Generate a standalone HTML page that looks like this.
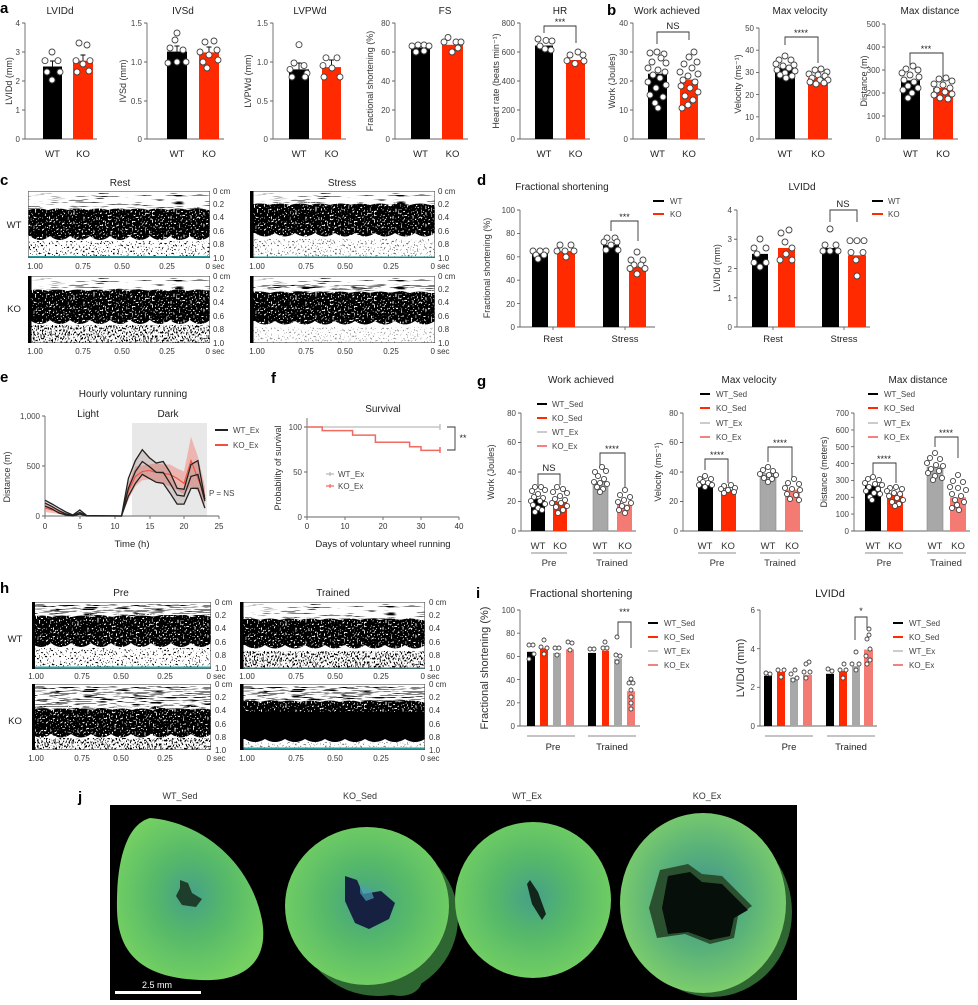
<!DOCTYPE html>
<html><head><meta charset="utf-8"><style>
body{margin:0;background:#fff}
svg text{font-family:"Liberation Sans",Arial,sans-serif;fill:#333}
.tr{font-size:8px;text-anchor:end;fill:#444}
.tm{font-size:8px;text-anchor:middle;fill:#444}
.tl{font-size:8px;fill:#444}
.ti{font-size:10px;text-anchor:middle;fill:#222}
.ti2{font-size:11px;text-anchor:middle;fill:#222}
.xl{font-size:9.5px;text-anchor:middle;fill:#222}
.yl{font-size:9px;text-anchor:middle;fill:#333}
.yl2{font-size:11px;text-anchor:middle;fill:#333}
.lg{font-size:8px;fill:#444}
.L{font-size:15px;font-weight:bold;fill:#000}
.ax{stroke:#666;stroke-width:0.9;fill:none}
.br{stroke:#333;stroke-width:0.9;fill:none}
.eb{stroke:#000;stroke-width:0.9;fill:none}
.d circle{fill:#fff;stroke:#444;stroke-width:0.9}
.s{font-size:9px;text-anchor:middle;fill:#222}
.hl{font-size:9px;text-anchor:middle;fill:#333}
</style></head><body>
<svg width="978" height="1000" viewBox="0 0 978 1000" xmlns="http://www.w3.org/2000/svg">
<defs>
<filter id="fs" x="0" y="0" width="1" height="1" color-interpolation-filters="sRGB"><feTurbulence type="fractalNoise" baseFrequency="0.05 0.9" numOctaves="2" seed="3"/><feColorMatrix type="matrix" values="0 0 0 0 0  0 0 0 0 0  0 0 0 0 0  -10 0 0 0 3.8"/></filter>
<filter id="fs2" x="0" y="0" width="1" height="1" color-interpolation-filters="sRGB"><feTurbulence type="fractalNoise" baseFrequency="0.06 0.9" numOctaves="2" seed="5"/><feColorMatrix type="matrix" values="0 0 0 0 0  0 0 0 0 0  0 0 0 0 0  -10 0 0 0 4.6"/></filter>
<filter id="ws" x="0" y="0" width="1" height="1" color-interpolation-filters="sRGB"><feTurbulence type="fractalNoise" baseFrequency="0.7 0.5" numOctaves="1" seed="4"/><feColorMatrix type="matrix" values="0 0 0 0 1  0 0 0 0 1  0 0 0 0 1  -10 0 0 0 4.1"/></filter>
<filter id="ks" x="0" y="0" width="1" height="1" color-interpolation-filters="sRGB"><feTurbulence type="fractalNoise" baseFrequency="0.7 0.5" numOctaves="1" seed="7"/><feColorMatrix type="matrix" values="0 0 0 0 0  0 0 0 0 0  0 0 0 0 0  -10 0 0 0 4.1"/></filter>
<filter id="ks2" x="0" y="0" width="1" height="1" color-interpolation-filters="sRGB"><feTurbulence type="fractalNoise" baseFrequency="0.7 0.5" numOctaves="1" seed="9"/><feColorMatrix type="matrix" values="0 0 0 0 0  0 0 0 0 0  0 0 0 0 0  -10 0 0 0 4.8"/></filter>
<radialGradient id="hg" cx="50%" cy="48%" r="55%"><stop offset="0" stop-color="#45a088"/><stop offset="0.45" stop-color="#55b86a"/><stop offset="1" stop-color="#74d062"/></radialGradient>
<radialGradient id="hg2" cx="50%" cy="48%" r="55%"><stop offset="0" stop-color="#3f9090"/><stop offset="0.5" stop-color="#58b07a"/><stop offset="1" stop-color="#80d06a"/></radialGradient>
</defs>

<!-- ============ PANEL a ============ -->
<text class="L" x="0" y="13">a</text>
<text class="ti" x="60" y="14">LVIDd</text>
<text class="yl" transform="translate(12,81) rotate(-90)">LVIDd (mm)</text>
<path class="ax" d="M25 23V139H97M22 23h3M22 52h3M22 81h3M22 110h3M22 139h3"/>
<text class="tr" x="20" y="26">4</text><text class="tr" x="20" y="55">3</text><text class="tr" x="20" y="84">2</text><text class="tr" x="20" y="113">1</text><text class="tr" x="20" y="142">0</text>
<rect x="43" y="66.5" width="19" height="72.5" fill="#000"/>
<rect x="73" y="60.7" width="20" height="78.3" fill="#ff2a00"/>
<path class="eb" d="M52.5 66.5V61M50 61h5M83 60.7V55M80.5 55h5"/>
<g class="d"><circle cx="52" cy="52" r="3"/><circle cx="45" cy="60.7" r="3"/><circle cx="58" cy="60.7" r="3"/><circle cx="47" cy="72" r="3"/><circle cx="60" cy="72" r="3"/><circle cx="52" cy="80" r="3"/>
<circle cx="79" cy="43" r="3"/><circle cx="87" cy="45" r="3"/><circle cx="76" cy="60.7" r="3"/><circle cx="90" cy="60.7" r="3"/><circle cx="77" cy="72" r="3"/><circle cx="89" cy="71" r="3"/><circle cx="83" cy="64" r="3"/></g>
<text class="xl" x="52.5" y="157">WT</text><text class="xl" x="83" y="157">KO</text>

<text class="ti" x="183" y="14">IVSd</text>
<text class="yl" transform="translate(126,81) rotate(-90)">IVSd (mm)</text>
<path class="ax" d="M147 23V139H224M144 23h3M144 62h3M144 101h3M144 139h3"/>
<text class="tr" x="142" y="26">1.5</text><text class="tr" x="142" y="65">1.0</text><text class="tr" x="142" y="104">0.5</text><text class="tr" x="142" y="142">0</text>
<rect x="167" y="51.6" width="20" height="87.4" fill="#000"/>
<rect x="199" y="52.4" width="20" height="86.6" fill="#ff2a00"/>
<path class="eb" d="M177 51.6V46M174.5 46h5M209 52.4V47M206.5 47h5"/>
<g class="d"><circle cx="177" cy="33" r="3"/><circle cx="175" cy="40" r="3"/><circle cx="170" cy="48" r="3"/><circle cx="183" cy="50" r="3"/><circle cx="168" cy="63" r="3"/><circle cx="186" cy="62" r="3"/><circle cx="177" cy="62" r="3"/>
<circle cx="205" cy="42" r="3"/><circle cx="214" cy="41" r="3"/><circle cx="200" cy="52" r="3"/><circle cx="217" cy="50" r="3"/><circle cx="209" cy="55" r="3"/><circle cx="203" cy="62" r="3"/><circle cx="207" cy="68" r="3"/><circle cx="218" cy="60" r="3"/></g>
<text class="xl" x="177" y="157">WT</text><text class="xl" x="209" y="157">KO</text>

<text class="ti" x="310" y="14">LVPWd</text>
<text class="yl" transform="translate(251,81) rotate(-90)">LVPWd (mm)</text>
<path class="ax" d="M273 23V139H346M270 23h3M270 62h3M270 101h3M270 139h3"/>
<text class="tr" x="268" y="26">1.5</text><text class="tr" x="268" y="65">1.0</text><text class="tr" x="268" y="104">0.5</text><text class="tr" x="268" y="142">0</text>
<rect x="289" y="69.4" width="20" height="69.6" fill="#000"/>
<rect x="322" y="67.1" width="19" height="71.9" fill="#ff2a00"/>
<path class="eb" d="M299 69.4V63M296.5 63h5M331.5 67.1V60M329 60h5"/>
<g class="d"><circle cx="299" cy="44.7" r="3"/><circle cx="294" cy="63" r="3"/><circle cx="304" cy="65.6" r="3"/><circle cx="290" cy="69.4" r="3"/><circle cx="307" cy="73.3" r="3"/><circle cx="292" cy="77" r="3"/><circle cx="305" cy="77" r="3"/>
<circle cx="326" cy="57.8" r="3"/><circle cx="337" cy="57.8" r="3"/><circle cx="323" cy="65.6" r="3"/><circle cx="332" cy="68" r="3"/><circle cx="324" cy="77" r="3"/><circle cx="340" cy="77" r="3"/></g>
<text class="xl" x="299" y="157">WT</text><text class="xl" x="331.5" y="157">KO</text>

<text class="ti" x="445" y="14">FS</text>
<text class="yl" transform="translate(373,81) rotate(-90)">Fractional shortening (%)</text>
<path class="ax" d="M395 23V139H468M392 23h3M392 52h3M392 81h3M392 110h3M392 139h3"/>
<text class="tr" x="390" y="26">80</text><text class="tr" x="390" y="55">60</text><text class="tr" x="390" y="84">40</text><text class="tr" x="390" y="113">20</text><text class="tr" x="390" y="142">0</text>
<rect x="411" y="47.6" width="19" height="91.4" fill="#000"/>
<rect x="442" y="44.8" width="21" height="94.2" fill="#ff2a00"/>
<g class="d"><circle cx="412" cy="46" r="3"/><circle cx="418" cy="45" r="3"/><circle cx="424" cy="45" r="3"/><circle cx="429" cy="46" r="3"/><circle cx="416" cy="52" r="3"/><circle cx="424" cy="51" r="3"/>
<circle cx="448" cy="37.5" r="3"/><circle cx="444" cy="42" r="3"/><circle cx="456" cy="42" r="3"/><circle cx="461" cy="42" r="3"/><circle cx="452" cy="52" r="3"/><circle cx="458" cy="48" r="3"/></g>
<text class="xl" x="420.5" y="157">WT</text><text class="xl" x="452.5" y="157">KO</text>

<text class="ti" x="560" y="14">HR</text>
<text class="yl" transform="translate(499,81) rotate(-90)">Heart rate (beats min⁻¹)</text>
<path class="ax" d="M520 23V139H590M517 23h3M517 52h3M517 81h3M517 110h3M517 139h3"/>
<text class="tr" x="515" y="26">800</text><text class="tr" x="515" y="55">600</text><text class="tr" x="515" y="84">400</text><text class="tr" x="515" y="113">200</text><text class="tr" x="515" y="142">0</text>
<rect x="535" y="45.5" width="18" height="93.5" fill="#000"/>
<rect x="566" y="60" width="19" height="79" fill="#ff2a00"/>
<path class="br" d="M544 33V26H576V43"/><text class="s" x="560" y="25">***</text>
<g class="d"><circle cx="538" cy="39" r="3"/><circle cx="546" cy="40.4" r="3"/><circle cx="552" cy="41" r="3"/><circle cx="540" cy="46" r="3"/><circle cx="545" cy="49" r="3"/><circle cx="551" cy="50" r="3"/>
<circle cx="578" cy="52" r="3"/><circle cx="570" cy="55" r="3"/><circle cx="583" cy="55" r="3"/><circle cx="567" cy="60.7" r="3"/><circle cx="584" cy="61" r="3"/><circle cx="575" cy="63.6" r="3"/></g>
<text class="xl" x="544" y="157">WT</text><text class="xl" x="575.5" y="157">KO</text>

<!-- ============ PANEL b ============ -->
<text class="L" x="607" y="15">b</text>
<text class="ti" x="667" y="14">Work achieved</text>
<text class="yl" transform="translate(615,81) rotate(-90)">Work (Joules)</text>
<path class="ax" d="M633 23V139H705M630 23h3M630 52h3M630 81h3M630 110h3M630 139h3"/>
<text class="tr" x="628" y="26">40</text><text class="tr" x="628" y="55">30</text><text class="tr" x="628" y="84">20</text><text class="tr" x="628" y="113">10</text><text class="tr" x="628" y="142">0</text>
<rect x="648" y="73.7" width="19" height="65.3" fill="#000"/>
<rect x="680" y="79.6" width="18" height="59.4" fill="#ff2a00"/>
<path class="br" d="M657 44V32H689V40"/><text class="xl" x="673" y="29">NS</text>
<g class="d"><circle cx="650" cy="53" r="3"/><circle cx="657" cy="52" r="3"/><circle cx="664" cy="54" r="3"/><circle cx="661" cy="58" r="3"/><circle cx="652" cy="62" r="3"/><circle cx="666" cy="63" r="3"/><circle cx="648" cy="68" r="3"/><circle cx="658" cy="70" r="3"/><circle cx="665" cy="72" r="3"/><circle cx="653" cy="75" r="3"/><circle cx="660" cy="78" r="3"/><circle cx="648" cy="82" r="3"/><circle cx="666" cy="85" r="3"/><circle cx="656" cy="88" r="3"/><circle cx="650" cy="95" r="3"/><circle cx="663" cy="97" r="3"/><circle cx="655" cy="103" r="3"/><circle cx="658" cy="108" r="3"/>
<circle cx="694" cy="52" r="3"/><circle cx="689" cy="57" r="3"/><circle cx="697" cy="62" r="3"/><circle cx="684" cy="64" r="3"/><circle cx="692" cy="68" r="3"/><circle cx="680" cy="72" r="3"/><circle cx="698" cy="74" r="3"/><circle cx="688" cy="76" r="3"/><circle cx="683" cy="80" r="3"/><circle cx="695" cy="82" r="3"/><circle cx="681" cy="86" r="3"/><circle cx="690" cy="88" r="3"/><circle cx="698" cy="92" r="3"/><circle cx="685" cy="96" r="3"/><circle cx="693" cy="100" r="3"/><circle cx="688" cy="105" r="3"/><circle cx="682" cy="108" r="3"/></g>
<text class="xl" x="657.5" y="157">WT</text><text class="xl" x="689" y="157">KO</text>

<text class="ti" x="800" y="14">Max velocity</text>
<text class="yl" transform="translate(741,84) rotate(-90)">Velocity (ms⁻¹)</text>
<path class="ax" d="M759 28V139H832M756 28h3M756 50.2h3M756 72.4h3M756 94.6h3M756 116.8h3M756 139h3"/>
<text class="tr" x="754" y="31">50</text><text class="tr" x="754" y="53">40</text><text class="tr" x="754" y="75">30</text><text class="tr" x="754" y="98">20</text><text class="tr" x="754" y="120">10</text><text class="tr" x="754" y="142">0</text>
<rect x="775" y="68" width="20" height="71" fill="#000"/>
<rect x="808" y="78" width="20" height="61" fill="#ff2a00"/>
<path class="br" d="M785 45V37H818V63"/><text class="s" x="801" y="36">****</text>
<g class="d"><circle cx="785" cy="56" r="3"/><circle cx="779" cy="60" r="3"/><circle cx="791" cy="60" r="3"/><circle cx="776" cy="64" r="3"/><circle cx="794" cy="65" r="3"/><circle cx="783" cy="66" r="3"/><circle cx="789" cy="68" r="3"/><circle cx="777" cy="70" r="3"/><circle cx="795" cy="71" r="3"/><circle cx="785" cy="73" r="3"/><circle cx="780" cy="75" r="3"/><circle cx="792" cy="76" r="3"/><circle cx="786" cy="78" r="3"/>
<circle cx="815" cy="70" r="3"/><circle cx="821" cy="69" r="3"/><circle cx="827" cy="72" r="3"/><circle cx="809" cy="74" r="3"/><circle cx="818" cy="75" r="3"/><circle cx="825" cy="76" r="3"/><circle cx="812" cy="78" r="3"/><circle cx="820" cy="80" r="3"/><circle cx="828" cy="80" r="3"/><circle cx="810" cy="82" r="3"/><circle cx="816" cy="84" r="3"/><circle cx="824" cy="83" r="3"/></g>
<text class="xl" x="785" y="157">WT</text><text class="xl" x="818" y="157">KO</text>

<text class="ti" x="930" y="14">Max distance</text>
<text class="yl" transform="translate(867,81) rotate(-90)">Distance (m)</text>
<path class="ax" d="M885 24V139H958M882 24h3M882 47h3M882 70h3M882 93h3M882 116h3M882 139h3"/>
<text class="tr" x="880" y="27">500</text><text class="tr" x="880" y="50">400</text><text class="tr" x="880" y="73">300</text><text class="tr" x="880" y="96">200</text><text class="tr" x="880" y="119">100</text><text class="tr" x="880" y="142">0</text>
<rect x="901" y="80.4" width="19" height="58.6" fill="#000"/>
<rect x="933" y="88" width="20" height="51" fill="#ff2a00"/>
<path class="br" d="M910 65V53H943V87"/><text class="s" x="926" y="52">***</text>
<g class="d"><circle cx="913" cy="66" r="3"/><circle cx="906" cy="69" r="3"/><circle cx="918" cy="70" r="3"/><circle cx="902" cy="73" r="3"/><circle cx="910" cy="75" r="3"/><circle cx="919" cy="77" r="3"/><circle cx="904" cy="80" r="3"/><circle cx="914" cy="82" r="3"/><circle cx="908" cy="86" r="3"/><circle cx="918" cy="88" r="3"/><circle cx="903" cy="90" r="3"/><circle cx="912" cy="93" r="3"/><circle cx="908" cy="98" r="3"/>
<circle cx="939" cy="79" r="3"/><circle cx="946" cy="78" r="3"/><circle cx="952" cy="81" r="3"/><circle cx="934" cy="84" r="3"/><circle cx="943" cy="85" r="3"/><circle cx="950" cy="88" r="3"/><circle cx="937" cy="90" r="3"/><circle cx="945" cy="92" r="3"/><circle cx="934" cy="95" r="3"/><circle cx="952" cy="94" r="3"/><circle cx="940" cy="98" r="3"/><circle cx="948" cy="99" r="3"/></g>
<text class="xl" x="910.5" y="157">WT</text><text class="xl" x="943" y="157">KO</text>

<!-- ============ PANEL c ============ -->
<text class="L" x="0" y="185">c</text>
<text class="ti" x="120" y="186">Rest</text>
<text class="ti" x="342" y="186">Stress</text>
<text class="xl" x="14" y="228">WT</text>
<text class="xl" x="14" y="312">KO</text>

<svg x="28" y="191" width="182" height="67" overflow="hidden">
<rect width="182" height="67" fill="#fff"/>
<rect y="2" width="182" height="17" filter="url(#fs)"/>
<path d="M0 19q10 -3 20 0q10 -3 20 0q10 -3 20 0q10 -3 20 0q10 -3 20 0q10 -3 20 0q10 -3 20 0q10 -3 20 0q10 -3 20 0H182V45q-10 8 -20 0q-10 8 -20 0q-10 8 -20 0q-10 8 -20 0q-10 8 -20 0q-10 8 -20 0q-10 8 -20 0q-10 8 -20 0q-10 8 -20 0H0Z" fill="#000"/>
<rect y="16" width="182" height="36" filter="url(#ws)"/>
<rect y="50" width="182" height="17" filter="url(#ks)"/>
<rect y="65" width="182" height="2" fill="#2a9a9a"/>
<rect width="182" height="67" fill="none" stroke="#555" stroke-width="1.2"/>
</svg>
<svg x="250" y="191" width="185" height="67" overflow="hidden">
<rect width="185" height="67" fill="#fff"/>
<rect y="2" width="185" height="12" filter="url(#fs)"/>
<path d="M0 14q10 -3 20 0q10 -3 20 0q10 -3 20 0q10 -3 20 0q10 -3 20 0q10 -3 20 0q10 -3 20 0q10 -3 20 0q10 -3 20 0H185V42q-10 7 -20 0q-10 7 -20 0q-10 7 -20 0q-10 7 -20 0q-10 7 -20 0q-10 7 -20 0q-10 7 -20 0q-10 7 -20 0q-10 7 -20 0H0Z" fill="#000"/>
<rect y="11" width="185" height="36" filter="url(#ws)"/>
<rect y="48" width="185" height="19" filter="url(#ks)" opacity="0.6"/>
<rect y="65.5" width="185" height="1.5" fill="#2a9a9a"/>
<rect width="185" height="67" fill="none" stroke="#555" stroke-width="1.2"/>
<rect width="3.5" height="67" fill="#000"/>
</svg>
<svg x="28" y="276" width="182" height="67" overflow="hidden">
<rect width="182" height="67" fill="#fff"/>
<rect y="2" width="182" height="13" filter="url(#fs)"/>
<path d="M0 15q10 -3 20 0q10 -3 20 0q10 -3 20 0q10 -3 20 0q10 -3 20 0q10 -3 20 0q10 -3 20 0q10 -3 20 0q10 -3 20 0H182V44q-10 8 -20 0q-10 8 -20 0q-10 8 -20 0q-10 8 -20 0q-10 8 -20 0q-10 8 -20 0q-10 8 -20 0q-10 8 -20 0q-10 8 -20 0H0Z" fill="#000"/>
<rect y="12" width="182" height="38" filter="url(#ws)"/>
<rect y="49" width="182" height="18" filter="url(#ks2)"/>
<rect width="182" height="67" fill="none" stroke="#555" stroke-width="1.2"/>
<rect width="3.5" height="67" fill="#000"/>
</svg>
<svg x="250" y="276" width="185" height="67" overflow="hidden">
<rect width="185" height="67" fill="#fff"/>
<rect y="2" width="185" height="15" filter="url(#fs)"/>
<rect y="9" width="185" height="4" filter="url(#fs2)"/>
<path d="M0 17q10 -3 20 0q10 -3 20 0q10 -3 20 0q10 -3 20 0q10 -3 20 0q10 -3 20 0q10 -3 20 0q10 -3 20 0q10 -3 20 0H185V45q-10 7 -20 0q-10 7 -20 0q-10 7 -20 0q-10 7 -20 0q-10 7 -20 0q-10 7 -20 0q-10 7 -20 0q-10 7 -20 0q-10 7 -20 0H0Z" fill="#000"/>
<rect y="14" width="185" height="36" filter="url(#ws)"/>
<rect y="51" width="185" height="16" filter="url(#ks)" opacity="0.4"/>
<rect width="185" height="67" fill="none" stroke="#555" stroke-width="1.2"/>
<rect width="3.5" height="67" fill="#000"/>
</svg>
<g class="tl">
<text x="213" y="194">0 cm</text><text x="213" y="207">0.2</text><text x="213" y="220">0.4</text><text x="213" y="234">0.6</text><text x="213" y="247">0.8</text><text x="213" y="261">1.0</text>
<text x="438" y="194">0 cm</text><text x="438" y="207">0.2</text><text x="438" y="220">0.4</text><text x="438" y="234">0.6</text><text x="438" y="247">0.8</text><text x="438" y="261">1.0</text>
<text x="213" y="279">0 cm</text><text x="213" y="292">0.2</text><text x="213" y="305">0.4</text><text x="213" y="319">0.6</text><text x="213" y="332">0.8</text><text x="213" y="346">1.0</text>
<text x="438" y="279">0 cm</text><text x="438" y="292">0.2</text><text x="438" y="305">0.4</text><text x="438" y="319">0.6</text><text x="438" y="332">0.8</text><text x="438" y="346">1.0</text>
</g>
<g class="tm">
<text x="35" y="269">1.00</text><text x="83" y="269">0.75</text><text x="122" y="269">0.50</text><text x="167" y="269">0.25</text><text x="215" y="269">0 sec</text>
<text x="257" y="269">1.00</text><text x="306" y="269">0.75</text><text x="345" y="269">0.50</text><text x="391" y="269">0.25</text><text x="440" y="269">0 sec</text>
<text x="35" y="354">1.00</text><text x="83" y="354">0.75</text><text x="122" y="354">0.50</text><text x="167" y="354">0.25</text><text x="215" y="354">0 sec</text>
<text x="257" y="354">1.00</text><text x="306" y="354">0.75</text><text x="345" y="354">0.50</text><text x="391" y="354">0.25</text><text x="440" y="354">0 sec</text>
</g>

<!-- ============ PANEL d ============ -->
<text class="L" x="477" y="185">d</text>
<text class="ti" x="562" y="190">Fractional shortening</text>
<text class="yl" transform="translate(490,268) rotate(-90)">Fractional shortening (%)</text>
<path class="ax" d="M520 210V327H655M517 210h3M517 233.4h3M517 256.8h3M517 280.2h3M517 303.6h3M517 327h3M553 327v3M625 327v3"/>
<text class="tr" x="515" y="213">100</text><text class="tr" x="515" y="236">80</text><text class="tr" x="515" y="260">60</text><text class="tr" x="515" y="283">40</text><text class="tr" x="515" y="307">20</text><text class="tr" x="515" y="330">0</text>
<rect x="532" y="253.3" width="16" height="73.7" fill="#000"/>
<rect x="557" y="251" width="18" height="76" fill="#ff2a00"/>
<rect x="603" y="245.1" width="16" height="81.9" fill="#000"/>
<rect x="629" y="266.2" width="17" height="60.8" fill="#ff2a00"/>
<path class="br" d="M611 231V221H638V241"/><text class="s" x="624.5" y="220">***</text>
<g class="d"><circle cx="533" cy="251" r="3"/><circle cx="540" cy="251" r="3"/><circle cx="546" cy="251" r="3"/><circle cx="536" cy="255" r="3"/><circle cx="544" cy="255" r="3"/><circle cx="538" cy="259" r="3"/>
<circle cx="560" cy="245" r="3"/><circle cx="571" cy="245" r="3"/><circle cx="557" cy="251" r="3"/><circle cx="565" cy="251" r="3"/><circle cx="574" cy="251" r="3"/><circle cx="566" cy="257" r="3"/>
<circle cx="607" cy="238" r="3"/><circle cx="615" cy="238" r="3"/><circle cx="604" cy="242" r="3"/><circle cx="617" cy="242" r="3"/><circle cx="611" cy="245" r="3"/><circle cx="606" cy="250" r="3"/><circle cx="618" cy="250" r="3"/>
<circle cx="637" cy="252" r="3"/><circle cx="631" cy="260" r="3"/><circle cx="643" cy="260" r="3"/><circle cx="634" cy="265" r="3"/><circle cx="641" cy="265" r="3"/><circle cx="630" cy="268.5" r="3"/><circle cx="645" cy="268.5" r="3"/><circle cx="637" cy="274" r="3"/></g>
<text class="xl" x="553" y="342">Rest</text><text class="xl" x="625" y="342">Stress</text>
<path d="M653 201h11" stroke="#000" stroke-width="2"/><text class="lg" x="670" y="204">WT</text>
<path d="M653 214h11" stroke="#ff2a00" stroke-width="2"/><text class="lg" x="670" y="217">KO</text>

<text class="ti" x="802" y="190">LVIDd</text>
<text class="yl" transform="translate(720,268) rotate(-90)">LVIDd (mm)</text>
<path class="ax" d="M737 210V327H870M734 210h3M734 239.25h3M734 268.5h3M734 297.75h3M734 327h3M773 327v3M844 327v3"/>
<text class="tr" x="732" y="213">4</text><text class="tr" x="732" y="242">3</text><text class="tr" x="732" y="272">2</text><text class="tr" x="732" y="301">1</text><text class="tr" x="732" y="330">0</text>
<rect x="752" y="253.9" width="16" height="73.1" fill="#000"/>
<rect x="778" y="248" width="17" height="79" fill="#ff2a00"/>
<rect x="822" y="248" width="17" height="79" fill="#000"/>
<rect x="848" y="255.3" width="18" height="71.7" fill="#ff2a00"/>
<path class="br" d="M830 222V210H857V222"/><text class="xl" x="843" y="207">NS</text>
<g class="d"><circle cx="760" cy="239" r="3"/><circle cx="754" cy="248" r="3"/><circle cx="766" cy="248" r="3"/><circle cx="757" cy="254" r="3"/><circle cx="754" cy="262.6" r="3"/><circle cx="766" cy="262.6" r="3"/><circle cx="760" cy="267" r="3"/>
<circle cx="789" cy="230" r="3"/><circle cx="781" cy="233" r="3"/><circle cx="785" cy="242" r="3"/><circle cx="792" cy="248" r="3"/><circle cx="780" cy="260" r="3"/><circle cx="792" cy="260" r="3"/><circle cx="786" cy="254" r="3"/>
<circle cx="830" cy="229" r="3"/><circle cx="825" cy="245" r="3"/><circle cx="836" cy="245" r="3"/><circle cx="823" cy="251" r="3"/><circle cx="838" cy="251" r="3"/><circle cx="830" cy="251" r="3"/>
<circle cx="850" cy="240.7" r="3"/><circle cx="857" cy="240.7" r="3"/><circle cx="864" cy="240.7" r="3"/><circle cx="851" cy="252.4" r="3"/><circle cx="863" cy="252.4" r="3"/><circle cx="856" cy="260" r="3"/><circle cx="857" cy="276" r="3"/></g>
<text class="xl" x="773" y="342">Rest</text><text class="xl" x="844" y="342">Stress</text>
<path d="M872 201h11" stroke="#000" stroke-width="2"/><text class="lg" x="888" y="204">WT</text>
<path d="M872 214h11" stroke="#ff2a00" stroke-width="2"/><text class="lg" x="888" y="217">KO</text>

<!-- ============ PANEL e ============ -->
<text class="L" x="0" y="382">e</text>
<text class="ti" x="133" y="397">Hourly voluntary running</text>
<rect x="132" y="423" width="75" height="93" fill="#e8e8e8"/>
<text class="ti" x="88" y="417">Light</text>
<text class="ti" x="168" y="417">Dark</text>
<text class="yl" transform="translate(10,477) rotate(-90)">Distance (m)</text>
<path class="ax" d="M45 416V516H219M42 416h3M42 466h3M42 516h3M45 516v3M80 516v3M115 516v3M150 516v3M184 516v3M219 516v3"/>
<text class="tr" x="40" y="419">1,000</text><text class="tr" x="40" y="469">500</text><text class="tr" x="40" y="519">0</text>
<g class="tm"><text x="45" y="529">0</text><text x="80" y="529">5</text><text x="115" y="529">10</text><text x="150" y="529">15</text><text x="184" y="529">20</text><text x="219" y="529">25</text></g>
<text class="xl" x="132" y="547">Time (h)</text>
<path d="M45 503L52 507L58.9 510L65.9 513L72.8 515L79.8 512L86.7 516L121.5 516L128.4 483L135.4 466.5L142.3 465.5L149.3 464.5L156.2 463.5L163.2 464.5L170.1 464.5L177.1 468.5L184 471.5L191 436.8L197.9 456.6L204.9 486.3L204.9 504.1L197.9 491.3L191 486.3L184 494.2L177.1 490.3L170.1 486.3L163.2 484.3L156.2 481.3L149.3 479.4L142.3 480.4L135.4 486.3L128.4 500L121.5 516L86.7 516L79.8 515L72.8 516L65.9 515L58.9 514L52 513L45 512Z" fill="#f08a80" opacity="0.55"/>
<path d="M45 500.2L52 504L58.9 508L65.9 512L72.8 515L79.8 510L86.7 515.5L121.5 516L128.4 478.4L135.4 460.6L142.3 449.7L149.3 457.6L156.2 463L163.2 461.5L170.1 472.4L177.1 488.3L184 489.3L191 464.5L197.9 460.6L204.9 499.2L204.9 508.1L197.9 488.3L191 488.3L184 504.1L177.1 504.1L170.1 493.2L163.2 483.3L156.2 482.3L149.3 478.4L142.3 474.4L135.4 483.3L128.4 496.2L121.5 516L86.7 516L79.8 514L72.8 516L65.9 515L58.9 513L52 509L45 506.1Z" fill="#8a5a5a" opacity="0.22"/>
<path d="M45 508.1L52 510L58.9 512L65.9 514L72.8 515.5L79.8 514L86.7 516L121.5 516L128.4 491.3L135.4 476.4L142.3 471.5L149.3 470.5L156.2 472.4L163.2 473.4L170.1 474.4L177.1 478.4L184 483.3L191 460.6L197.9 478.4L204.9 496.2" fill="none" stroke="#f0503c" stroke-width="1.1"/>
<g fill="none" stroke="#222" stroke-width="1.3">
<path d="M45 503.1L52 506.6L58.9 510.6L65.9 514L72.8 515.5L79.8 512.5L86.7 515.8L121.5 516L128.4 488.3L135.4 471.5L142.3 461.5L149.3 466.5L156.2 472.4L163.2 472.4L170.1 483.3L177.1 495.2L184 496.2L191 476.4L197.9 474.4L204.9 501.1"/>
<path d="M45 500.2L52 504L58.9 508L65.9 512L72.8 515L79.8 510L86.7 515.5L121.5 516L128.4 478.4L135.4 460.6L142.3 449.7L149.3 457.6L156.2 463L163.2 461.5L170.1 472.4L177.1 488.3L184 489.3L191 464.5L197.9 460.6L204.9 499.2"/>
<path d="M45 506.1L52 509L58.9 513L65.9 515L72.8 516L79.8 514L86.7 516L121.5 516L128.4 496.2L135.4 483.3L142.3 474.4L149.3 478.4L156.2 482.3L163.2 483.3L170.1 493.2L177.1 504.1L184 504.1L191 488.3L197.9 488.3L204.9 508.1"/>
</g>
<path d="M215 430h13" stroke="#222" stroke-width="2"/><text class="lg" x="233" y="433">WT_Ex</text>
<path d="M215 445h13" stroke="#f0503c" stroke-width="2"/><text class="lg" x="233" y="448">KO_Ex</text>
<text class="lg" x="209" y="496">P = NS</text>

<!-- ============ PANEL f ============ -->
<text class="L" x="271" y="383">f</text>
<text class="ti" x="383" y="412">Survival</text>
<text class="yl" transform="translate(281,468) rotate(-90)">Probability of survival</text>
<path class="ax" d="M307 418V517H459M304 427h3M304 472h3M304 517h3M307 517v3M345 517v3M383 517v3M421 517v3M459 517v3"/>
<text class="tr" x="302" y="430">100</text><text class="tr" x="302" y="475">50</text><text class="tr" x="302" y="520">0</text>
<g class="tm"><text x="307" y="529">0</text><text x="345" y="529">10</text><text x="383" y="529">20</text><text x="421" y="529">30</text><text x="459" y="529">40</text></g>
<text class="xl" x="383" y="547">Days of voluntary wheel running</text>
<path d="M307 427H440M440 424v6" stroke="#bbb" stroke-width="1.3" fill="none"/>
<path d="M307 427H322.2V430.6H352.6V435.1H375.4V442.3H409.6V446.8H421V450.4H440M440 447v6" stroke="#f06a60" stroke-width="1.5" fill="none"/>
<path class="br" d="M447 427H455V450H447"/><text class="s" x="463" y="441">**</text>
<path d="M326 474h8M330 472v4" stroke="#aaa" stroke-width="1"/><text class="lg" x="338" y="477">WT_Ex</text>
<path d="M326 486h8M330 484v4" stroke="#f06a60" stroke-width="1.2"/><text class="lg" x="338" y="489">KO_Ex</text>

<!-- ============ PANEL g ============ -->
<text class="L" x="477" y="386">g</text>
<text class="ti" x="581" y="383">Work achieved</text>
<text class="yl" transform="translate(494,472) rotate(-90)">Work (Joules)</text>
<path class="ax" d="M521 413V531H636M518 413h3M518 442.5h3M518 472h3M518 501.5h3M518 531h3"/>
<text class="tr" x="516" y="416">80</text><text class="tr" x="516" y="445">60</text><text class="tr" x="516" y="475">40</text><text class="tr" x="516" y="504">20</text><text class="tr" x="516" y="534">0</text>
<rect x="531" y="498.6" width="14" height="32.4" fill="#000"/>
<rect x="553" y="501.5" width="14" height="29.5" fill="#ff2a00"/>
<rect x="593" y="482.3" width="15" height="48.7" fill="#a8a8a8" stroke="#888" stroke-width="0.6"/>
<rect x="617" y="504.5" width="15" height="26.5" fill="#f47b73"/>
<path class="br" d="M538 485V474H560V485"/><text class="xl" x="549" y="471">NS</text>
<path class="br" d="M600 467V453H625V492"/><text class="s" x="612" y="452">****</text>
<g class="d"><circle cx="535" cy="487" r="2.6"/><circle cx="541" cy="487" r="2.6"/><circle cx="532" cy="491" r="2.6"/><circle cx="545" cy="490" r="2.6"/><circle cx="538" cy="494" r="2.6"/><circle cx="534" cy="497" r="2.6"/><circle cx="543" cy="498" r="2.6"/><circle cx="531" cy="501" r="2.6"/><circle cx="540" cy="501" r="2.6"/><circle cx="545" cy="504" r="2.6"/><circle cx="533" cy="505" r="2.6"/><circle cx="538" cy="508" r="2.6"/><circle cx="542" cy="510" r="2.6"/><circle cx="535" cy="512" r="2.6"/>
<circle cx="557" cy="487" r="2.6"/><circle cx="563" cy="489" r="2.6"/><circle cx="553" cy="492" r="2.6"/><circle cx="567" cy="493" r="2.6"/><circle cx="560" cy="496" r="2.6"/><circle cx="555" cy="499" r="2.6"/><circle cx="565" cy="500" r="2.6"/><circle cx="552" cy="503" r="2.6"/><circle cx="561" cy="503" r="2.6"/><circle cx="567" cy="506" r="2.6"/><circle cx="556" cy="507" r="2.6"/><circle cx="563" cy="510" r="2.6"/><circle cx="558" cy="513" r="2.6"/>
<circle cx="602" cy="467" r="2.6"/><circle cx="595" cy="472" r="2.6"/><circle cx="606" cy="471" r="2.6"/><circle cx="598" cy="476" r="2.6"/><circle cx="604" cy="479" r="2.6"/><circle cx="594" cy="482" r="2.6"/><circle cx="600" cy="483" r="2.6"/><circle cx="607" cy="484" r="2.6"/><circle cx="597" cy="487" r="2.6"/><circle cx="603" cy="489" r="2.6"/><circle cx="600" cy="492" r="2.6"/>
<circle cx="625" cy="490" r="2.6"/><circle cx="620" cy="495" r="2.6"/><circle cx="630" cy="497" r="2.6"/><circle cx="624" cy="500" r="2.6"/><circle cx="618" cy="502" r="2.6"/><circle cx="631" cy="503" r="2.6"/><circle cx="622" cy="506" r="2.6"/><circle cx="627" cy="508" r="2.6"/><circle cx="619" cy="510" r="2.6"/><circle cx="625" cy="513" r="2.6"/></g>
<g class="xl"><text x="538" y="549">WT</text><text x="560" y="549">KO</text><text x="600" y="549">WT</text><text x="625" y="549">KO</text><text x="549" y="566">Pre</text><text x="612" y="566">Trained</text></g>
<path d="M531 553H567M593 553H632" stroke="#888" stroke-width="0.9"/>
<g><path d="M537 404h10" stroke="#000" stroke-width="2"/><path d="M537 418h10" stroke="#ff2a00" stroke-width="2"/><path d="M537 432h10" stroke="#ccc" stroke-width="2"/><path d="M537 446h10" stroke="#f58080" stroke-width="2"/>
<text class="lg" x="552" y="407">WT_Sed</text><text class="lg" x="552" y="421">KO_Sed</text><text class="lg" x="552" y="435">WT_Ex</text><text class="lg" x="552" y="449">KO_Ex</text></g>

<text class="ti" x="749" y="383">Max velocity</text>
<text class="yl" transform="translate(661,472) rotate(-90)">Velocity (ms⁻¹)</text>
<path class="ax" d="M683 413V531H803M680 413h3M680 442.5h3M680 472h3M680 501.5h3M680 531h3"/>
<text class="tr" x="678" y="416">80</text><text class="tr" x="678" y="445">60</text><text class="tr" x="678" y="475">40</text><text class="tr" x="678" y="504">20</text><text class="tr" x="678" y="534">0</text>
<rect x="698" y="483.8" width="15" height="47.2" fill="#000"/>
<rect x="721" y="489.7" width="15" height="41.3" fill="#ff2a00"/>
<rect x="760" y="473.5" width="16" height="57.5" fill="#a8a8a8" stroke="#888" stroke-width="0.6"/>
<rect x="785" y="489.7" width="15" height="41.3" fill="#f47b73"/>
<path class="br" d="M705 470V459H728V483"/><text class="s" x="717" y="458">****</text>
<path class="br" d="M768 462V447H792V477"/><text class="s" x="780" y="446">****</text>
<g class="d"><circle cx="705" cy="476" r="2.6"/><circle cx="700" cy="479" r="2.6"/><circle cx="711" cy="479" r="2.6"/><circle cx="703" cy="482" r="2.6"/><circle cx="708" cy="483" r="2.6"/><circle cx="699" cy="485" r="2.6"/><circle cx="712" cy="485" r="2.6"/><circle cx="705" cy="487" r="2.6"/>
<circle cx="731" cy="485" r="2.6"/><circle cx="724" cy="486" r="2.6"/><circle cx="735" cy="488" r="2.6"/><circle cx="721" cy="489" r="2.6"/><circle cx="728" cy="490" r="2.6"/><circle cx="734" cy="492" r="2.6"/><circle cx="724" cy="493" r="2.6"/>
<circle cx="768" cy="467" r="2.6"/><circle cx="763" cy="470" r="2.6"/><circle cx="773" cy="471" r="2.6"/><circle cx="760" cy="474" r="2.6"/><circle cx="769" cy="475" r="2.6"/><circle cx="776" cy="475" r="2.6"/><circle cx="764" cy="478" r="2.6"/><circle cx="772" cy="479" r="2.6"/><circle cx="768" cy="482" r="2.6"/>
<circle cx="794" cy="479" r="2.6"/><circle cx="788" cy="483" r="2.6"/><circle cx="799" cy="484" r="2.6"/><circle cx="785" cy="488" r="2.6"/><circle cx="792" cy="489" r="2.6"/><circle cx="800" cy="490" r="2.6"/><circle cx="787" cy="494" r="2.6"/><circle cx="796" cy="495" r="2.6"/><circle cx="790" cy="499" r="2.6"/><circle cx="799" cy="500" r="2.6"/></g>
<g class="xl"><text x="705" y="549">WT</text><text x="728" y="549">KO</text><text x="768" y="549">WT</text><text x="792" y="549">KO</text><text x="717" y="566">Pre</text><text x="780" y="566">Trained</text></g>
<path d="M698 553H736M760 553H800" stroke="#888" stroke-width="0.9"/>
<g><path d="M700 394h10" stroke="#000" stroke-width="2"/><path d="M700 408h10" stroke="#ff2a00" stroke-width="2"/><path d="M700 423h10" stroke="#ccc" stroke-width="2"/><path d="M700 437h10" stroke="#f58080" stroke-width="2"/>
<text class="lg" x="716" y="397">WT_Sed</text><text class="lg" x="716" y="411">KO_Sed</text><text class="lg" x="716" y="426">WT_Ex</text><text class="lg" x="716" y="440">KO_Ex</text></g>

<text class="ti" x="918" y="383">Max distance</text>
<text class="yl" transform="translate(827,472) rotate(-90)">Distance (meters)</text>
<path class="ax" d="M854 413V531H970M851 413h3M851 429.9h3M851 446.7h3M851 463.6h3M851 480.4h3M851 497.3h3M851 514.1h3M851 531h3"/>
<text class="tr" x="849" y="416">700</text><text class="tr" x="849" y="433">600</text><text class="tr" x="849" y="450">500</text><text class="tr" x="849" y="467">400</text><text class="tr" x="849" y="483">300</text><text class="tr" x="849" y="500">200</text><text class="tr" x="849" y="517">100</text><text class="tr" x="849" y="534">0</text>
<rect x="865" y="485.5" width="16" height="45.5" fill="#000"/>
<rect x="887" y="494.7" width="16" height="36.3" fill="#ff2a00"/>
<rect x="927" y="466.9" width="16" height="64.1" fill="#a8a8a8" stroke="#888" stroke-width="0.6"/>
<rect x="950" y="497.3" width="16" height="33.7" fill="#f47b73"/>
<path class="br" d="M873 475V463H896V483"/><text class="s" x="884" y="462">****</text>
<path class="br" d="M935 447V437H958V458"/><text class="s" x="946" y="436">****</text>
<g class="d"><circle cx="873" cy="477" r="2.6"/><circle cx="868" cy="479" r="2.6"/><circle cx="879" cy="480" r="2.6"/><circle cx="865" cy="483" r="2.6"/><circle cx="875" cy="484" r="2.6"/><circle cx="882" cy="485" r="2.6"/><circle cx="869" cy="487" r="2.6"/><circle cx="878" cy="489" r="2.6"/><circle cx="866" cy="491" r="2.6"/><circle cx="874" cy="493" r="2.6"/><circle cx="880" cy="494" r="2.6"/><circle cx="870" cy="497" r="2.6"/><circle cx="872" cy="500" r="2.6"/>
<circle cx="896" cy="487" r="2.6"/><circle cx="890" cy="488" r="2.6"/><circle cx="902" cy="489" r="2.6"/><circle cx="887" cy="491" r="2.6"/><circle cx="894" cy="493" r="2.6"/><circle cx="900" cy="494" r="2.6"/><circle cx="889" cy="496" r="2.6"/><circle cx="897" cy="498" r="2.6"/><circle cx="903" cy="500" r="2.6"/><circle cx="892" cy="502" r="2.6"/><circle cx="899" cy="504" r="2.6"/><circle cx="895" cy="506" r="2.6"/>
<circle cx="935" cy="453" r="2.6"/><circle cx="930" cy="458" r="2.6"/><circle cx="940" cy="459" r="2.6"/><circle cx="927" cy="463" r="2.6"/><circle cx="936" cy="465" r="2.6"/><circle cx="943" cy="466" r="2.6"/><circle cx="931" cy="469" r="2.6"/><circle cx="939" cy="471" r="2.6"/><circle cx="928" cy="473" r="2.6"/><circle cx="935" cy="476" r="2.6"/><circle cx="942" cy="478" r="2.6"/><circle cx="933" cy="480" r="2.6"/>
<circle cx="958" cy="475" r="2.6"/><circle cx="953" cy="481" r="2.6"/><circle cx="963" cy="482" r="2.6"/><circle cx="950" cy="487" r="2.6"/><circle cx="958" cy="488" r="2.6"/><circle cx="966" cy="490" r="2.6"/><circle cx="952" cy="494" r="2.6"/><circle cx="961" cy="496" r="2.6"/><circle cx="955" cy="500" r="2.6"/><circle cx="964" cy="502" r="2.6"/><circle cx="957" cy="505" r="2.6"/><circle cx="952" cy="508" r="2.6"/><circle cx="959" cy="510" r="2.6"/></g>
<g class="xl"><text x="873" y="549">WT</text><text x="895" y="549">KO</text><text x="935" y="549">WT</text><text x="958" y="549">KO</text><text x="884" y="566">Pre</text><text x="946" y="566">Trained</text></g>
<path d="M865 553H903M927 553H966" stroke="#888" stroke-width="0.9"/>
<g><path d="M868 394h10" stroke="#000" stroke-width="2"/><path d="M868 408h10" stroke="#ff2a00" stroke-width="2"/><path d="M868 423h10" stroke="#ccc" stroke-width="2"/><path d="M868 437h10" stroke="#f58080" stroke-width="2"/>
<text class="lg" x="884" y="397">WT_Sed</text><text class="lg" x="884" y="411">KO_Sed</text><text class="lg" x="884" y="426">WT_Ex</text><text class="lg" x="884" y="440">KO_Ex</text></g>

<!-- ============ PANEL h ============ -->
<text class="L" x="0" y="593">h</text>
<text class="ti" x="121" y="596">Pre</text>
<text class="ti" x="333" y="596">Trained</text>
<text class="xl" x="15" y="642">WT</text>
<text class="xl" x="15" y="724">KO</text>
<svg x="32" y="602" width="179" height="67" overflow="hidden">
<rect width="179" height="67" fill="#fff"/>
<rect y="2" width="179" height="14" filter="url(#fs2)"/>
<path d="M0 15q10 -3 20 0q10 -3 20 0q10 -3 20 0q10 -3 20 0q10 -3 20 0q10 -3 20 0q10 -3 20 0q10 -3 20 0q10 -3 20 0H179V41q-10 8 -20 0q-10 8 -20 0q-10 8 -20 0q-10 8 -20 0q-10 8 -20 0q-10 8 -20 0q-10 8 -20 0q-10 8 -20 0q-10 8 -20 0H0Z" fill="#000"/>
<rect y="12" width="179" height="36" filter="url(#ws)"/>
<rect y="46" width="179" height="21" filter="url(#ks)"/>
<rect y="64.5" width="179" height="2.5" fill="#2aa8a8"/>
<rect width="179" height="67" fill="none" stroke="#555" stroke-width="1.2"/>
<rect width="3" height="67" fill="#000"/>
</svg>
<svg x="240" y="602" width="185" height="67" overflow="hidden">
<rect width="185" height="67" fill="#fff"/>
<rect y="2" width="185" height="16" filter="url(#fs)"/>
<path d="M0 18q10 -3 20 0q10 -3 20 0q10 -3 20 0q10 -3 20 0q10 -3 20 0q10 -3 20 0q10 -3 20 0q10 -3 20 0q10 -3 20 0H185V43q-10 7 -20 0q-10 7 -20 0q-10 7 -20 0q-10 7 -20 0q-10 7 -20 0q-10 7 -20 0q-10 7 -20 0q-10 7 -20 0q-10 7 -20 0H0Z" fill="#000"/>
<rect y="15" width="185" height="34" filter="url(#ws)"/>
<rect y="49" width="185" height="18" filter="url(#ks2)"/>
<rect y="65.5" width="185" height="1.5" fill="#2a9a9a"/>
<rect width="185" height="67" fill="none" stroke="#555" stroke-width="1.2"/>
<rect width="3.5" height="67" fill="#000"/>
</svg>
<svg x="32" y="684" width="179" height="66" overflow="hidden">
<rect width="179" height="66" fill="#fff"/>
<rect y="2" width="179" height="24" filter="url(#fs2)"/>
<path d="M0 26q10 -3 20 0q10 -3 20 0q10 -3 20 0q10 -3 20 0q10 -3 20 0q10 -3 20 0q10 -3 20 0q10 -3 20 0q10 -3 20 0H179V50q-10 7 -20 0q-10 7 -20 0q-10 7 -20 0q-10 7 -20 0q-10 7 -20 0q-10 7 -20 0q-10 7 -20 0q-10 7 -20 0q-10 7 -20 0H0Z" fill="#000"/>
<rect y="22" width="179" height="34" filter="url(#ws)"/>
<rect y="54" width="179" height="12" filter="url(#ks2)"/>
<rect width="179" height="66" fill="none" stroke="#555" stroke-width="1.2"/>
<rect width="3" height="66" fill="#000"/>
</svg>
<svg x="240" y="684" width="185" height="66" overflow="hidden">
<rect width="185" height="66" fill="#fff"/>
<rect y="2" width="185" height="16" filter="url(#fs2)"/>
<path d="M0 18q10 -3 20 0q10 -3 20 0q10 -3 20 0q10 -3 20 0q10 -3 20 0q10 -3 20 0q10 -3 20 0q10 -3 20 0q10 -3 20 0H185V55q-10 6 -20 0q-10 6 -20 0q-10 6 -20 0q-10 6 -20 0q-10 6 -20 0q-10 6 -20 0q-10 6 -20 0q-10 6 -20 0q-10 6 -20 0H0Z" fill="#000"/>
<rect y="16" width="185" height="12" filter="url(#ws)"/>
<rect y="58" width="185" height="8" filter="url(#ks)" opacity="0.5"/>
<rect y="63.5" width="185" height="2" fill="#2a9a9a"/>
<rect width="185" height="66" fill="none" stroke="#555" stroke-width="1.2"/>
<rect width="3.5" height="66" fill="#000"/>
</svg>
<g class="tl">
<text x="215" y="605">0 cm</text><text x="215" y="618">0.2</text><text x="215" y="631">0.4</text><text x="215" y="645">0.6</text><text x="215" y="658">0.8</text><text x="215" y="671">1.0</text>
<text x="429" y="605">0 cm</text><text x="429" y="618">0.2</text><text x="429" y="631">0.4</text><text x="429" y="645">0.6</text><text x="429" y="658">0.8</text><text x="429" y="671">1.0</text>
<text x="215" y="687">0 cm</text><text x="215" y="700">0.2</text><text x="215" y="713">0.4</text><text x="215" y="727">0.6</text><text x="215" y="740">0.8</text><text x="215" y="753">1.0</text>
<text x="429" y="687">0 cm</text><text x="429" y="700">0.2</text><text x="429" y="713">0.4</text><text x="429" y="727">0.6</text><text x="429" y="740">0.8</text><text x="429" y="753">1.0</text>
</g>
<g class="tm">
<text x="36" y="679">1.00</text><text x="82" y="679">0.75</text><text x="121" y="679">0.50</text><text x="165" y="679">0.25</text><text x="216" y="679">0 sec</text>
<text x="247" y="679">1.00</text><text x="296" y="679">0.75</text><text x="335" y="679">0.50</text><text x="381" y="679">0.25</text><text x="430" y="679">0 sec</text>
<text x="36" y="761">1.00</text><text x="82" y="761">0.75</text><text x="121" y="761">0.50</text><text x="165" y="761">0.25</text><text x="216" y="761">0 sec</text>
<text x="247" y="761">1.00</text><text x="296" y="761">0.75</text><text x="335" y="761">0.50</text><text x="381" y="761">0.25</text><text x="430" y="761">0 sec</text>
</g>

<!-- ============ PANEL i ============ -->
<text class="L" x="476" y="598">i</text>
<text class="ti2" x="581" y="597">Fractional shortening</text>
<text class="yl2" transform="translate(488,668) rotate(-90)">Fractional shortening (%)</text>
<path class="ax" d="M520 610V726H640M517 610h3M517 633.2h3M517 656.4h3M517 679.6h3M517 702.8h3M517 726h3"/>
<text class="tr" x="515" y="613">100</text><text class="tr" x="515" y="636">80</text><text class="tr" x="515" y="659">60</text><text class="tr" x="515" y="683">40</text><text class="tr" x="515" y="706">20</text><text class="tr" x="515" y="729">0</text>
<rect x="527" y="651.8" width="8" height="74.2" fill="#000"/>
<rect x="540" y="648.3" width="8" height="77.7" fill="#ff2a00"/>
<rect x="553" y="652.9" width="8" height="73.1" fill="#a8a8a8"/>
<rect x="566" y="649.4" width="8" height="76.6" fill="#f47b73"/>
<rect x="588" y="652.9" width="8" height="73.1" fill="#000"/>
<rect x="602" y="650.6" width="7" height="75.4" fill="#ff2a00"/>
<rect x="614" y="658.7" width="8" height="67.3" fill="#a8a8a8"/>
<rect x="627" y="691.2" width="8" height="34.8" fill="#f47b73"/>
<path class="br" d="M618 635V622H631V648"/><text class="s" x="624.5" y="615">***</text>
<g class="d"><circle cx="529" cy="645" r="2"/><circle cx="533" cy="645" r="2"/><circle cx="529" cy="659" r="2"/><circle cx="534" cy="654" r="2"/>
<circle cx="544" cy="640" r="2"/><circle cx="541" cy="647" r="2"/><circle cx="547" cy="648" r="2"/><circle cx="544" cy="654" r="2"/>
<circle cx="555" cy="648" r="2"/><circle cx="559" cy="648" r="2"/><circle cx="557" cy="655" r="2"/>
<circle cx="568" cy="642" r="2"/><circle cx="572" cy="643" r="2"/><circle cx="570" cy="650" r="2"/>
<circle cx="590" cy="649" r="2"/><circle cx="594" cy="649" r="2"/>
<circle cx="605" cy="642" r="2"/><circle cx="603" cy="648" r="2"/><circle cx="607" cy="648" r="2"/>
<circle cx="617" cy="637" r="2"/><circle cx="616" cy="655" r="2"/><circle cx="620" cy="656" r="2"/><circle cx="617" cy="662" r="2"/>
<circle cx="631" cy="679" r="2"/><circle cx="629" cy="683" r="2"/><circle cx="633" cy="683" r="2"/><circle cx="631" cy="690" r="2"/><circle cx="631" cy="697" r="2"/><circle cx="631" cy="703" r="2"/><circle cx="631" cy="709" r="2"/></g>
<path d="M527 736H575M588 736H636" stroke="#888" stroke-width="0.9"/>
<text class="xl" x="553" y="750">Pre</text><text class="xl" x="612" y="750">Trained</text>
<g><path d="M648 623h10" stroke="#000" stroke-width="2"/><path d="M648 637h10" stroke="#ff2a00" stroke-width="2"/><path d="M648 651h10" stroke="#ccc" stroke-width="2"/><path d="M648 665h10" stroke="#f58080" stroke-width="2"/>
<text class="lg" x="664" y="626">WT_Sed</text><text class="lg" x="664" y="640">KO_Sed</text><text class="lg" x="664" y="654">WT_Ex</text><text class="lg" x="664" y="668">KO_Ex</text></g>

<text class="ti2" x="830" y="597">LVIDd</text>
<text class="yl2" transform="translate(744,668) rotate(-90)">LVIDd (mm)</text>
<path class="ax" d="M760 610V726H877M757 610h3M757 648.7h3M757 687.3h3M757 726h3"/>
<text class="tr" x="755" y="613">6</text><text class="tr" x="755" y="652">4</text><text class="tr" x="755" y="690">2</text><text class="tr" x="755" y="729">0</text>
<rect x="764" y="675.7" width="8" height="50.3" fill="#000"/>
<rect x="777" y="671.9" width="8" height="54.1" fill="#ff2a00"/>
<rect x="790" y="677.7" width="8" height="48.3" fill="#a8a8a8"/>
<rect x="803" y="674.8" width="9" height="51.2" fill="#f47b73"/>
<rect x="826" y="673.8" width="8" height="52.2" fill="#000"/>
<rect x="839" y="670.9" width="8" height="55.1" fill="#ff2a00"/>
<rect x="852" y="666.1" width="8" height="59.9" fill="#a8a8a8"/>
<rect x="864" y="649.6" width="9" height="76.4" fill="#f47b73"/>
<path class="br" d="M855 640V617H867V630"/><text class="s" x="861" y="614">*</text>
<g class="d"><circle cx="766" cy="673" r="2"/><circle cx="770" cy="674" r="2"/>
<circle cx="778" cy="670" r="2"/><circle cx="784" cy="670" r="2"/><circle cx="781" cy="677" r="2"/>
<circle cx="795" cy="670" r="2"/><circle cx="791" cy="674" r="2"/><circle cx="793" cy="680" r="2"/><circle cx="797" cy="678" r="2"/>
<circle cx="809" cy="662" r="2"/><circle cx="806" cy="664" r="2"/><circle cx="804" cy="672" r="2"/><circle cx="810" cy="672" r="2"/><circle cx="806" cy="678" r="2"/>
<circle cx="828" cy="669" r="2"/><circle cx="832" cy="671" r="2"/>
<circle cx="844" cy="664" r="2"/><circle cx="840" cy="670" r="2"/><circle cx="846" cy="670" r="2"/><circle cx="843" cy="678" r="2"/>
<circle cx="856" cy="652" r="2"/><circle cx="852" cy="664" r="2"/><circle cx="859" cy="664" r="2"/><circle cx="856" cy="670" r="2"/>
<circle cx="869" cy="629" r="2"/><circle cx="869" cy="635" r="2"/><circle cx="867" cy="639" r="2"/><circle cx="870" cy="649" r="2"/><circle cx="866" cy="656" r="2"/><circle cx="870" cy="660" r="2"/><circle cx="867" cy="664" r="2"/></g>
<path d="M765 736H813M827 736H875" stroke="#888" stroke-width="0.9"/>
<text class="xl" x="789" y="750">Pre</text><text class="xl" x="851" y="750">Trained</text>
<g><path d="M893 623h10" stroke="#000" stroke-width="2"/><path d="M893 637h10" stroke="#ff2a00" stroke-width="2"/><path d="M893 651h10" stroke="#ccc" stroke-width="2"/><path d="M893 665h10" stroke="#f58080" stroke-width="2"/>
<text class="lg" x="909" y="626">WT_Sed</text><text class="lg" x="909" y="640">KO_Sed</text><text class="lg" x="909" y="654">WT_Ex</text><text class="lg" x="909" y="668">KO_Ex</text></g>

<!-- ============ PANEL j ============ -->
<text class="L" x="78" y="802">j</text>
<text class="hl" x="180" y="799">WT_Sed</text>
<text class="hl" x="360" y="799">KO_Sed</text>
<text class="hl" x="527" y="799">WT_Ex</text>
<text class="hl" x="707" y="799">KO_Ex</text>
<rect x="110" y="805" width="687" height="195" fill="#000"/>
<path d="M150 818C200 822 250 860 262 920C270 965 240 982 200 980C150 978 118 960 117 910C116 865 125 825 150 818Z" fill="url(#hg)"/>
<path d="M180 880l8 3l4 10l10 6l-6 8l-14 -2l-6 -9l4 -8Z" fill="#1f3d2b"/>
<ellipse cx="378" cy="918" rx="80" ry="78" fill="#2d6630"/>
<ellipse cx="400" cy="980" rx="22" ry="16" fill="#2d6630"/>
<ellipse cx="367" cy="906" rx="82" ry="79" fill="url(#hg)"/>
<path d="M345 876l12 4l6 14l18 -3l14 12l-6 16l-20 10l-14 -6l-10 -22Z" fill="#162040"/>
<path d="M360 885l10 3l4 10l-8 3l-6 -8Z" fill="#4aa0b0" opacity="0.7"/>
<ellipse cx="533" cy="900" rx="78" ry="78" fill="url(#hg)"/>
<path d="M530 880l8 12l8 22l-4 6l-10 -16l-5 -20Z" fill="#12261c"/>
<ellipse cx="712" cy="912" rx="80" ry="85" fill="#2d6630"/>
<ellipse cx="703" cy="903" rx="83" ry="90" fill="url(#hg2)"/>
<path d="M660 870l28 -6l14 10l20 2l30 30l-14 10l-4 22l-24 6l-25 -10l-28 4l-8 -30Z" fill="#2a5030"/>
<path d="M668 876l22 -4l12 10l20 2l26 26l-14 8l-4 18l-20 4l-22 -8l-20 2l-6 -26Z" fill="#070f0a"/>
<rect x="115" y="991" width="86" height="3" fill="#fff"/>
<text x="157" y="988" style="font-size:9px;text-anchor:middle;fill:#fff">2.5 mm</text>
</svg>
</body></html>
